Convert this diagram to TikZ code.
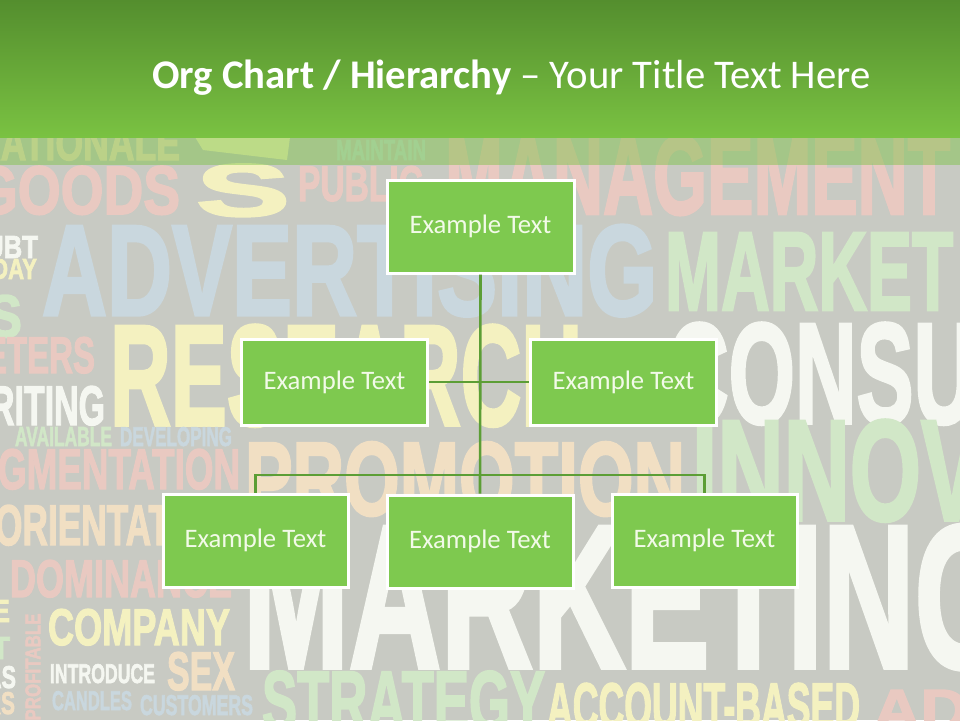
\documentclass[tikz,border=0pt]{standalone}
\usepackage{fontspec}
\usepackage{graphicx}
\setmainfont{Carlito}
\newfontfamily\bgfont{Liberation Sans}[FakeBold=2.5]
\definecolor{bggray}{HTML}{C8CAC3}
\definecolor{wpink}{HTML}{E9C9C1}
\definecolor{wblue}{HTML}{C9D7DE}
\definecolor{wyellow}{HTML}{F4F1C0}
\definecolor{wgreen}{HTML}{D1E7C7}
\definecolor{wwhite}{HTML}{F5F7F1}
\definecolor{worange}{HTML}{F1DFC3}
\definecolor{wteal}{HTML}{C3DDD2}
\definecolor{hdrtop}{HTML}{548E2E}
\definecolor{hdrbot}{HTML}{7AC242}
\definecolor{boxfill}{HTML}{7EC94F}
\definecolor{linkgreen}{HTML}{5C9E35}
\definecolor{boxtext}{HTML}{F2FAE8}
\newcommand{\bgword}[7]{\node[bgw,text=#6] (#1) at (#2,#3) {\resizebox{#4pt}{#5pt}{\bgfont\bfseries #7}};}
\tikzset{
  bgw/.style={anchor=north west,inner sep=0pt,outer sep=0pt},
  orgbox/.style={draw=white,line width=3pt,fill=boxfill,text=boxtext,
    font=\fontsize{26.7}{30}\selectfont,inner sep=0pt},
  link/.style={draw=linkgreen,line width=2.6pt}
}
\begin{document}
\begin{tikzpicture}[x=1pt,y=-1pt]
\useasboundingbox (0,0) rectangle (960,720);
\clip (0,0) rectangle (960,720);
\fill[bggray] (0,0) rectangle (960,720);
% background word cloud
\bgword{w1}{-25}{126}{205}{34}{worange}{RATIONALE}
\fill[wyellow] (195,137) -- (290,137) -- (287,160) -- (203,150) -- cycle;
\bgword{w2}{196}{164}{94}{52}{wyellow}{S}
\bgword{w3}{336}{140}{90}{20}{wteal}{MAINTAIN}
\bgword{w4}{-25}{166}{205}{48}{wpink}{GOODS}
\bgword{w5}{298}{166}{125}{35}{wpink}{PUBLIC}
\bgword{w6}{445}{136}{505}{78}{wpink}{MANAGEMENT}
\bgword{w7}{-15}{236}{53}{22}{wwhite}{UBT}
\bgword{w8}{-8}{259}{45}{20}{wyellow}{DAY}
\bgword{w9}{42}{225}{615}{90}{wblue}{ADVERTISING}
\bgword{w10}{665}{233}{288}{77}{wgreen}{MARKET}
\bgword{w11}{-12}{295}{34}{42}{wgreen}{S}
\bgword{w12}{-15}{337}{110}{36}{wpink}{ETERS}
\bgword{w13}{110}{325}{472}{100}{wyellow}{RESEARCH}
\bgword{w14}{667}{323}{308}{100}{wwhite}{CONSU}
\bgword{w15}{-10}{386}{115}{39}{wwhite}{RITING}
\bgword{w16}{15}{427}{97}{19}{wgreen}{AVAILABLE}
\bgword{w17}{120}{427}{112}{19}{wblue}{DEVELOPING}
\bgword{w18}{-2}{449}{242}{40}{wpink}{GMENTATION}
\bgword{w19}{245}{442}{440}{73}{worange}{PROMOTION}
\bgword{w20}{692}{420}{290}{100}{wgreen}{INNOV}
\bgword{w21}{-5}{505}{175}{40}{worange}{ORIENTAT}
\bgword{w22}{10}{560}{222}{37}{wpink}{DOMINANCE}
\bgword{w23}{243}{525}{770}{142}{wwhite}{MARKETING}
\bgword{w24}{48}{609}{182}{36}{wyellow}{COMPANY}
\node[bgw,anchor=center,rotate=90,text=wpink] (w25) at (33,667) {\resizebox{107pt}{15pt}{\bgfont\bfseries PROFITABLE}};
\bgword{w26}{50}{664}{105}{19}{wwhite}{INTRODUCE}
\bgword{w27}{167}{652}{68}{38}{worange}{SEX}
\bgword{w28}{52}{691}{80}{19}{wblue}{CANDLES}
\bgword{w29}{140}{695}{113}{20}{wblue}{CUSTOMERS}
\bgword{w30}{262}{671}{283}{60}{wgreen}{STRATEGY}
\bgword{w31}{547}{683}{313}{45}{wyellow}{ACCOUNT-BASED}
\bgword{w32}{873}{690}{95}{40}{wpink}{AD}
\bgword{w33}{-8}{600}{18}{22}{wyellow}{E}
\bgword{w34}{-8}{637}{18}{22}{wgreen}{T}
\bgword{w35}{-14}{666}{30}{22}{wwhite}{AS}
\bgword{w36}{-14}{692}{29}{22}{worange}{RS}
% header
\shade[top color=hdrtop,bottom color=hdrbot] (0,0) rectangle (960,137);
\fill[hdrbot,opacity=0.45] (0,137) rectangle (960,165);
\node[anchor=base west,inner sep=0pt,text=white,font=\fontsize{40.7}{48}\selectfont] (title) at (152,88)
  {\textbf{Org Chart / Hierarchy} – Your Title Text Here};
% org chart
\coordinate (bus) at (480,475);
\node[orgbox,minimum width=187pt,minimum height=93pt] (top) at (480.5,226.5) {Example Text};
\node[orgbox,minimum width=186pt,minimum height=86pt] (ml) at (334.5,382) {Example Text};
\node[orgbox,minimum width=186pt,minimum height=86pt] (mr) at (623.5,382) {Example Text};
\node[orgbox,minimum width=185pt,minimum height=93pt] (bl) at (255.5,540.5) {Example Text};
\node[orgbox,minimum width=186pt,minimum height=93pt] (bm) at (480,541.5) {Example Text};
\node[orgbox,minimum width=185pt,minimum height=93pt] (br) at (704.5,540.5) {Example Text};
\draw[link] (top.south) -- (bm.north);
\draw[link] (ml.east) -- (mr.west);
\draw[link] (bl.north) |- (bus) -| (br.north);
\end{tikzpicture}
\end{document}
